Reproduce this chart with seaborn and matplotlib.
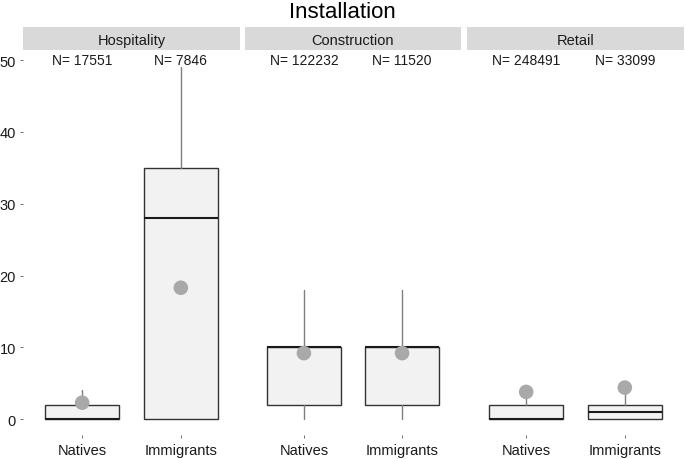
import matplotlib
matplotlib.use('Agg')
import matplotlib.pyplot as plt
import seaborn as sns
import pandas as pd

# Data
sectors = ["Hospitality", "Construction", "Retail"]
groups = ["Natives", "Immigrants"]
n_obs = [[17551, 7846], [122232, 11520], [248491, 33099]]
q1 = [[0, 0], [2, 2], [0, 0]]
median = [[0, 28], [10, 10], [0, 1]]
q3 = [[2, 35], [10, 10], [2, 2]]
whisker_lo = [[0, 0], [0, 0], [0, 0]]
whisker_hi = [[4, 49], [18, 18], [3, 4]]
means = [[2.3, 18.3], [9.2, 9.2], [3.8, 4.4]]

sns.set_theme(style="white")
plt.rcParams['font.family'] = ['Liberation Sans', 'DejaVu Sans']

W, H = 685, 460
fig = plt.figure(figsize=(W / 100, H / 100), dpi=100)

panel_x = [(23, 240), (245, 461), (467, 684)]
panel_top, panel_bottom = 51, 436
strip_top = 28

for i, sector in enumerate(sectors):
    x0, x1 = panel_x[i]
    ax = fig.add_axes([x0 / W, 1 - panel_bottom / H, (x1 - x0) / W, (panel_bottom - panel_top) / H])
    sax = fig.add_axes([x0 / W, 1 - panel_top / H, (x1 - x0) / W, (panel_top - strip_top) / H])
    sax.set_facecolor("#d9d9d9")
    sax.set_xticks([])
    sax.set_yticks([])
    for s in sax.spines.values():
        s.set_visible(False)
    sax.text(0.5, 0.45, sector, ha="center", va="center", fontsize=10.5, color="#1a1a1a",
             transform=sax.transAxes)

    stats = []
    for j, g in enumerate(groups):
        stats.append(dict(label=g, q1=q1[i][j], med=median[i][j], q3=q3[i][j],
                          whislo=whisker_lo[i][j], whishi=whisker_hi[i][j], fliers=[]))
    ax.bxp(stats, positions=[1, 2], widths=0.75, patch_artist=True, showcaps=False,
           boxprops=dict(facecolor="#f2f2f2", edgecolor="#333333", linewidth=1.0),
           medianprops=dict(color="#1a1a1a", linewidth=1.5, solid_capstyle="butt"),
           whiskerprops=dict(color="#7f7f7f", linewidth=1.0), zorder=2)

    df = pd.DataFrame({"pos": [1, 2], "mean": means[i]})
    sns.scatterplot(data=df, x="pos", y="mean", ax=ax, s=110, color="#a9a9a9",
                    edgecolor="none", zorder=3)

    for j in range(2):
        ax.text(j + 1, 50, f"N= {n_obs[i][j]}", ha="center", va="center",
                fontsize=10, color="#1a1a1a")

    ax.set_xlim(0.4, 2.6)
    ax.set_ylim(-2.2, 51.4)
    ax.set_xticks([1, 2])
    ax.set_xticklabels(groups)
    ax.set_yticks([0, 10, 20, 30, 40, 50])
    ax.set_xlabel("")
    ax.set_ylabel("")
    ax.tick_params(axis="both", length=2, width=0.5, color="#333333", labelsize=10.5,
                   labelcolor="#1a1a1a", pad=3, bottom=True, left=True)
    ax.tick_params(axis="x", pad=4)
    if i > 0:
        ax.tick_params(axis="y", left=False, labelleft=False)
    for s in ax.spines.values():
        s.set_visible(False)
    ax.set_facecolor("white")

fig.text(0.5, 1 - 13 / H, "Installation", ha="center", va="center", fontsize=16, color="black")

fig.savefig("out.png", dpi=100)
